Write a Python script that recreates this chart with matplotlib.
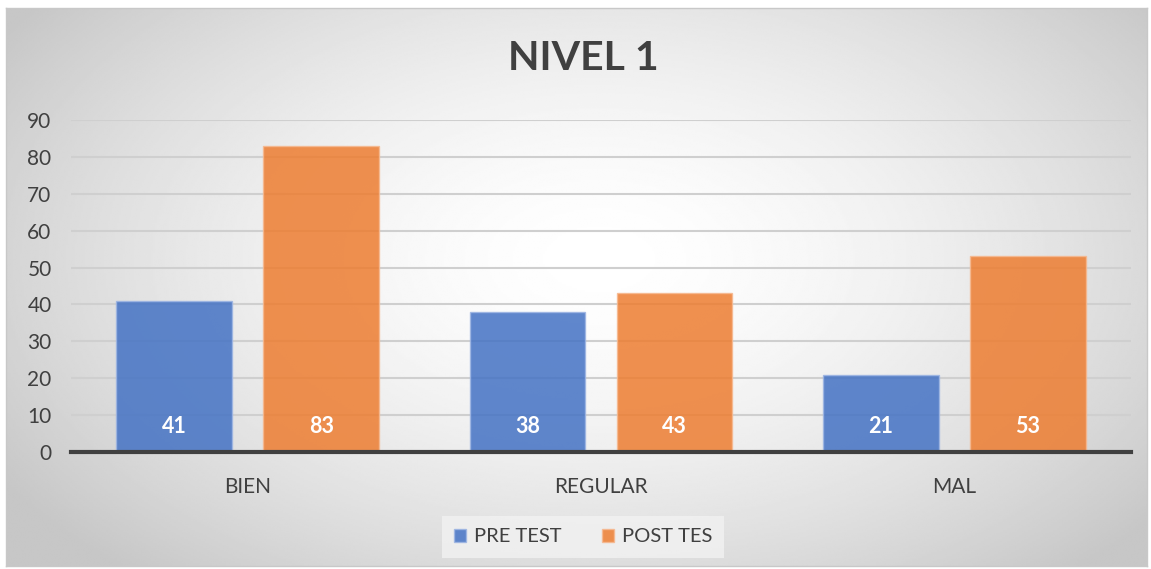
import matplotlib.pyplot as plt
import numpy as np

plt.rcParams['font.family'] = ['Lato', 'DejaVu Sans']

categories = ["BIEN", "REGULAR", "MAL"]
pre_test = [41, 38, 21]
post_test = [83, 43, 53]
series_names = ["PRE TEST", "POST TES"]
yticks = [0, 10, 20, 30, 40, 50, 60, 70, 80, 90]

W, H = 1151, 569
fig = plt.figure(figsize=(W / 100, H / 100), dpi=100)
fig.patch.set_facecolor("white")

# radial gradient background of the chart frame
bg = fig.add_axes([6 / W, 1 - 566 / H, 1141 / W, 558 / H], zorder=0)
yy, xx = np.mgrid[0:1:300j, 0:1:600j]
r = np.sqrt(((xx - 0.52) / 0.62) ** 2 + ((yy - 0.45) / 0.75) ** 2)
shade = 1.0 - 0.22 * np.clip(r, 0, 1) ** 1.6
bg.imshow(shade, cmap="gray", vmin=0, vmax=1, aspect="auto",
          extent=[0, 1, 0, 1], interpolation="bilinear")
bg.set_xlim(0, 1)
bg.set_ylim(0, 1)
bg.set_xticks([])
bg.set_yticks([])
for s in bg.spines.values():
    s.set_color("#c8c8c8")
    s.set_linewidth(1)

ax = fig.add_axes([71 / W, 1 - 452 / H, 1060 / W, 332 / H], zorder=1)
ax.patch.set_alpha(0)

x = np.arange(len(categories))
off = 0.208
bw = 0.328
b1 = ax.bar(x - off, pre_test, bw, color="#4472C4", alpha=0.85,
            edgecolor="#9db5e3", linewidth=1, zorder=3, label=series_names[0])
b2 = ax.bar(x + off, post_test, bw, color="#ED7D31", alpha=0.85,
            edgecolor="#f6b88f", linewidth=1, zorder=3, label=series_names[1])

for bars, vals in ((b1, pre_test), (b2, post_test)):
    for b, v in zip(bars, vals):
        ax.text(b.get_x() + b.get_width() / 2, 6.8, str(v), ha="center",
                va="center", color="white", fontsize=15.5, fontweight="bold",
                zorder=4)

ax.set_xlim(-0.5, len(categories) - 0.5)
ax.set_ylim(0, 90)
ax.set_yticks(yticks)
ax.yaxis.grid(True, color="#cfcfcf", linewidth=1.5, zorder=0)
ax.set_axisbelow(True)
ax.axhline(0, color="#404040", linewidth=3, zorder=5, clip_on=False)
for s in ax.spines.values():
    s.set_visible(False)
ax.tick_params(axis="both", length=0, labelsize=15, labelcolor="#404040")
ax.tick_params(axis="y", pad=14)
ax.tick_params(axis="x", pad=18)
ax.set_xticks(x)
ax.set_xticklabels(categories)

fig.text(583 / W, 1 - 58 / H, "NIVEL 1", ha="center", va="center",
         fontsize=29.5, fontweight="bold", color="#404040")

leg = fig.legend(handles=[b1, b2], labels=series_names, loc="center",
                 bbox_to_anchor=(583 / W, 1 - 537 / H), ncol=2, frameon=True,
                 fontsize=14.5, handlelength=0.6, handleheight=0.6,
                 columnspacing=2.0, handletextpad=0.4, borderpad=0.6,
                 fancybox=False)
leg.get_frame().set_facecolor("#f2f2f2")
leg.get_frame().set_edgecolor("none")
leg.get_frame().set_alpha(0.8)
for t in leg.get_texts():
    t.set_color("#404040")

fig.savefig("out.png", dpi=100)
